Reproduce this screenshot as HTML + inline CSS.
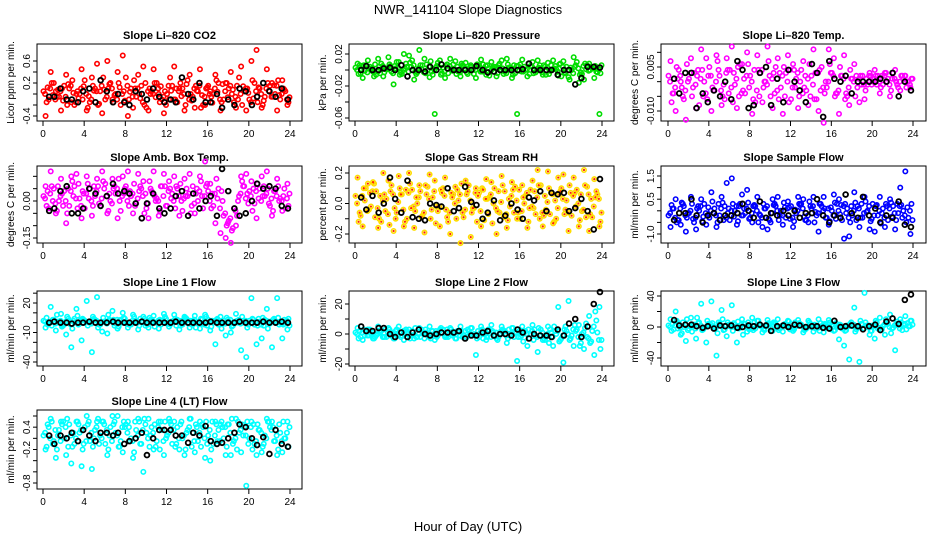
<!DOCTYPE html>
<html><head><meta charset="utf-8"><title>NWR_141104 Slope Diagnostics</title>
<style>
html,body{margin:0;padding:0;background:#fff;}
svg{display:block;font-family:"Liberation Sans",sans-serif;}
</style></head>
<body>
<svg id="chart" xmlns="http://www.w3.org/2000/svg" width="936" height="540" viewBox="0 0 936 540">
<text x="468" y="14" text-anchor="middle" font-size="13">NWR_141104  Slope Diagnostics</text>
<text x="468" y="531" text-anchor="middle" font-size="13">Hour of Day (UTC)</text>
</svg>
<script>
// shared time grids (hours)
const hoursGrid = [0.25,0.75,1.25,1.75,2.25,2.75,3.25,3.75,4.25,4.75,5.25,5.75,6.25,6.75,7.25,7.75,8.25,8.75,9.25,9.75,10.25,10.75,11.25,11.75,12.25,12.75,13.25,13.75,14.25,14.75,15.25,15.75,16.25,16.75,17.25,17.75,18.25,18.75,19.25,19.75,20.25,20.75,21.25,21.75,22.25,22.75,23.25,23.75];
const hoursBlack = [0.6,1.1,1.7,2.3,2.8,3.4,3.9,4.5,5.1,5.6,6.2,6.8,7.3,7.9,8.4,9.0,9.6,10.1,10.7,11.3,11.8,12.4,12.9,13.5,14.1,14.6,15.2,15.8,16.3,16.9,17.4,18.0,18.6,19.1,19.7,20.3,20.8,21.4,22.0,22.6,23.2,23.8];
const xTicks = [0,4,8,12,16,20,24];

// Panel 1: CO2
const co2A = [0.05,-0.1,0.2,-0.05,0.15,0.1,-0.2,0.0,0.25,-0.15,0.1,0.05,-0.1,0.2,0.0,-0.2,0.3,0.1,-0.05,0.15,-0.25,0.05,0.2,-0.1,0.0,0.15,-0.15,0.1,0.25,-0.05,0.05,-0.2,0.15,0.0,0.2,-0.1,0.1,-0.15,0.3,0.05,-0.1,0.2,0.1,-0.05,0.15,0.0,-0.1,0.05];
const co2B = [-0.15,0.2,-0.05,0.1,-0.2,0.25,0.05,-0.1,-0.25,0.15,-0.2,0.3,0.1,-0.15,0.2,0.05,-0.1,0.25,0.0,-0.2,0.1,0.2,-0.15,0.05,0.3,-0.1,0.2,-0.2,0.0,0.15,-0.25,0.1,-0.05,0.25,-0.15,0.2,0.0,0.15,-0.2,0.1,0.25,-0.15,-0.2,0.2,-0.05,0.25,0.1,-0.15];
const co2C = [-0.4,0.4,0.05,-0.3,0.35,-0.15,0.0,0.45,-0.3,0.3,0.55,-0.35,0.6,-0.1,0.4,0.7,-0.4,-0.25,0.35,0.5,-0.3,0.45,0.0,-0.35,-0.1,0.5,0.1,-0.3,0.35,-0.25,0.45,-0.2,0.05,0.35,-0.3,0.2,0.4,-0.25,0.5,-0.3,0.6,0.8,-0.25,0.45,0.2,-0.3,0.25,-0.2];
const co2D = [0.0,0.1,-0.1,0.05,-0.05,0.15,-0.15,0.1,0.0,-0.1,0.05,0.15,-0.05,0.1,-0.1,0.0,0.15,-0.05,0.1,-0.15,0.05,0.0,0.1,-0.05,0.15,-0.1,0.05,0.0,-0.1,0.1,0.15,-0.05,0.0,0.1,-0.1,0.05,0.15,-0.05,0.0,0.1,-0.15,0.05,0.0,0.1,-0.05,0.15,0.0,-0.1];
const co2E = [0.12,-0.02,0.08,-0.12,0.18,0.02,-0.08,0.14,-0.04,0.06,-0.18,0.08,0.18,-0.02,0.12,-0.12,0.04,0.1,-0.08,0.2,0.0,-0.06,0.14,-0.2,0.06,0.1,-0.04,0.18,-0.12,0.06,-0.02,0.12,-0.16,0.04,0.18,-0.06,0.08,-0.1,0.14,0.02,-0.08,0.12,-0.12,0.06,0.16,-0.02,0.08,-0.06];
const co2K = [-0.05,-0.05,0.1,-0.1,-0.1,-0.15,0.05,0.1,-0.15,0.25,0.05,-0.15,0.0,-0.15,-0.2,0.05,0.0,-0.1,0.1,-0.05,-0.15,-0.1,-0.15,0.3,0.0,-0.1,0.2,-0.15,-0.15,0.0,-0.25,-0.1,-0.2,0.1,0.05,-0.2,-0.05,0.2,0.05,-0.05,0.1,-0.1];
// Panel 2: pressure
const presA = [0.003,-0.004,0.006,0.0,-0.006,0.008,0.002,-0.002,0.01,-0.005,0.004,0.012,-0.003,0.006,0.0,-0.006,0.009,0.003,-0.004,0.007,-0.002,0.005,0.0,-0.005,0.006,0.002,-0.007,0.004,0.008,-0.002,0.003,-0.004,0.007,0.0,0.005,-0.003,0.002,-0.006,0.006,0.001,-0.008,0.004,0.0,0.01,-0.005,0.006,0.002,-0.003];
const presB = [-0.005,0.006,0.002,-0.008,0.004,-0.003,0.007,0.005,-0.006,0.002,0.009,-0.002,0.006,-0.004,0.011,0.003,-0.006,0.005,0.001,-0.005,0.008,-0.003,0.004,0.007,-0.002,0.006,0.003,-0.004,0.002,0.007,-0.006,0.005,-0.002,0.008,-0.004,0.003,0.006,-0.005,0.002,0.007,-0.003,-0.012,0.004,-0.006,0.008,0.0,0.005,-0.004];
const presC = [0.008,-0.01,0.012,-0.002,0.014,-0.008,0.016,-0.018,0.01,0.02,0.018,-0.012,0.025,0.014,-0.009,-0.055,0.012,-0.01,0.014,0.011,-0.008,0.009,0.006,-0.01,0.013,-0.006,0.01,-0.008,0.012,0.014,-0.01,-0.055,0.013,-0.008,0.01,0.012,-0.006,0.009,0.012,-0.007,0.011,-0.009,0.016,-0.016,-0.012,0.008,-0.01,-0.055];
const presD = [0.0,0.004,-0.003,0.002,-0.002,0.005,0.001,-0.004,0.003,0.0,-0.002,0.006,0.002,-0.003,0.004,0.0,0.003,-0.002,0.005,0.001,-0.003,0.002,0.004,0.0,-0.002,0.005,-0.001,0.003,0.0,-0.004,0.002,0.005,-0.002,0.001,0.004,0.0,-0.003,0.003,0.001,-0.002,0.004,0.0,-0.004,0.002,0.005,-0.001,0.003,0.0];
const presE = [0.006,-0.001,0.004,0.007,-0.004,0.001,0.005,0.002,-0.003,0.008,0.004,-0.005,0.001,0.007,-0.002,0.005,-0.004,0.007,-0.001,0.004,0.006,-0.005,0.001,0.005,0.007,-0.003,0.002,0.006,-0.005,0.003,0.006,-0.001,0.004,-0.005,0.001,0.006,0.004,-0.001,0.005,0.008,-0.004,0.003,0.006,-0.003,0.001,0.004,-0.002,0.006];
const presK = [0.0,0.005,0.0,0.0,0.002,0.003,0.0,0.006,-0.008,0.0,0.0,-0.002,0.004,0.0,0.007,0.002,0.0,0.0,0.0,0.0,0.005,0.0,-0.003,-0.002,0.0,0.0,0.0,0.0,0.001,0.008,0.0,0.0,0.0,0.0,-0.006,0.0,0.0,-0.018,-0.01,0.004,0.004,0.003];
// Panel 3: Li-820 temp
const tempA = [0.002,-0.004,0.004,-0.006,0.001,0.003,-0.008,0.0,0.005,-0.003,0.002,-0.006,0.004,-0.001,0.006,-0.004,0.002,-0.007,0.003,0.0,-0.005,0.005,-0.002,0.003,-0.006,0.001,0.004,-0.003,0.002,-0.006,0.005,-0.002,0.003,-0.004,0.002,-0.005,0.001,-0.002,0.002,-0.001,0.0,0.002,-0.001,0.001,0.003,-0.002,0.001,0.0];
const tempB = [-0.007,0.005,-0.002,0.006,-0.005,0.002,0.004,-0.006,-0.002,0.007,-0.005,0.004,-0.007,0.005,-0.003,0.006,-0.006,0.004,-0.002,0.007,0.003,-0.006,0.005,-0.007,0.004,-0.005,-0.002,0.006,-0.006,0.004,-0.004,0.006,-0.005,0.005,-0.006,0.004,-0.005,0.002,-0.003,0.002,0.002,-0.002,0.003,-0.003,0.0,0.002,-0.002,0.001];
const tempC = [0.007,-0.01,0.0,-0.013,0.008,-0.009,0.011,0.008,-0.01,0.009,-0.008,0.008,0.012,-0.009,0.006,0.01,-0.011,0.009,-0.007,0.012,-0.009,0.008,-0.011,0.009,0.006,-0.009,0.007,-0.008,0.011,-0.01,-0.014,0.011,0.008,-0.011,0.009,-0.008,0.006,-0.007,-0.006,0.003,0.004,-0.004,0.003,-0.005,0.004,-0.003,0.002,-0.002];
const tempD = [0.0,-0.002,0.002,-0.003,0.003,-0.001,0.001,-0.004,0.002,0.0,-0.003,0.003,-0.002,0.001,-0.004,0.002,0.0,-0.003,0.004,-0.001,0.001,-0.003,0.002,0.0,-0.002,0.003,-0.004,0.001,-0.001,0.003,-0.002,0.0,0.002,-0.003,0.001,-0.002,0.0,0.001,-0.001,0.002,0.001,0.0,0.002,-0.001,0.001,0.0,0.002,-0.001];
const tempE = [-0.004,0.001,-0.005,0.0,-0.002,0.004,-0.005,0.002,-0.003,0.004,-0.001,-0.004,0.003,-0.005,0.001,-0.002,0.004,-0.005,0.0,0.002,-0.004,0.003,-0.005,0.004,-0.002,0.0,0.002,-0.005,0.003,-0.003,0.0,0.003,-0.004,0.002,-0.004,0.001,0.002,-0.001,0.001,-0.001,-0.001,0.002,0.0,0.001,-0.001,0.002,0.0,0.001];
const tempK = [0.001,-0.004,0.003,0.003,-0.009,-0.004,-0.007,-0.003,-0.005,0.0,-0.006,0.007,0.004,-0.009,-0.008,0.003,0.005,-0.008,0.001,-0.007,0.004,0.0,-0.003,-0.007,0.006,0.003,-0.012,0.007,0.001,0.0,0.002,-0.004,0.0,0.0,0.0,0.0,0.001,0.0,0.003,-0.005,0.0,-0.003];
// Panel 4: amb box temp
const ambA = [0.02,-0.03,0.05,0.0,0.04,-0.02,0.06,0.01,-0.03,0.05,0.02,-0.02,0.07,0.0,0.03,-0.04,0.06,0.02,-0.01,0.05,-0.03,0.04,0.01,0.06,-0.02,0.03,0.05,-0.04,0.02,0.06,0.0,-0.03,0.04,-0.02,0.05,-0.06,-0.08,-0.03,0.02,0.06,0.04,-0.01,0.05,0.02,-0.02,0.04,0.01,-0.03];
const ambB = [-0.02,0.06,-0.04,0.03,-0.05,0.08,-0.03,0.04,0.07,-0.02,0.06,0.08,-0.04,0.05,0.09,0.03,-0.02,0.07,0.04,-0.05,0.08,0.02,-0.04,0.06,0.05,-0.03,0.07,0.02,-0.05,0.03,0.08,0.06,-0.03,0.09,0.04,-0.1,-0.12,-0.06,0.08,0.03,-0.04,0.07,0.02,0.05,-0.04,0.06,0.02,-0.02];
const ambC = [0.06,0.12,-0.05,0.09,-0.09,0.1,0.11,-0.07,0.1,-0.06,0.09,0.12,-0.05,0.09,-0.07,0.1,0.12,-0.05,0.11,0.08,-0.07,0.12,-0.06,0.11,0.08,0.1,-0.06,0.09,0.11,-0.05,0.1,0.16,0.07,-0.09,-0.13,-0.15,-0.17,-0.1,0.1,0.11,0.08,-0.07,0.1,0.12,-0.06,0.09,-0.04,0.07];
const ambD = [0.01,0.03,-0.01,0.02,0.0,0.04,0.01,-0.02,0.03,0.0,0.04,0.01,0.02,-0.01,0.05,0.02,0.0,0.03,0.01,0.02,-0.01,0.03,0.0,0.02,0.04,0.0,0.02,0.01,0.03,-0.01,0.04,0.02,0.0,0.03,-0.03,-0.05,-0.07,-0.04,0.03,0.01,0.02,0.04,0.0,0.03,0.01,0.02,0.0,0.01];
const ambE = [0.04,0.0,0.06,-0.02,0.05,0.02,0.07,0.03,0.01,0.06,-0.01,0.05,0.03,0.06,0.0,0.05,0.04,-0.02,0.06,0.03,0.05,0.0,0.06,-0.02,0.01,0.06,0.0,0.05,-0.02,0.05,0.02,0.07,0.03,0.01,0.0,-0.09,-0.11,0.0,0.06,-0.01,0.05,0.01,0.06,-0.01,0.04,0.0,0.05,0.03];
const ambK = [-0.04,-0.03,0.04,0.06,-0.05,-0.05,-0.03,0.05,0.03,-0.02,0.02,0.07,0.03,0.04,0.03,-0.01,-0.07,-0.01,0.03,-0.03,-0.05,-0.03,0.02,0.04,-0.06,0.03,-0.03,0.0,0.02,-0.06,0.13,0.04,-0.03,-0.06,-0.05,0.0,0.07,0.05,0.06,0.05,-0.02,-0.03];
// Panel 5: gas stream RH
const rhA = [0.05,-0.08,0.1,-0.02,0.08,-0.12,0.03,0.12,-0.06,0.06,-0.1,0.09,0.0,-0.08,0.11,0.04,-0.05,0.1,-0.12,0.06,0.02,-0.09,0.12,-0.03,0.07,-0.11,0.04,0.1,-0.06,0.08,-0.02,0.11,-0.1,0.05,0.09,-0.07,0.12,-0.04,0.07,-0.1,0.1,0.02,-0.08,0.09,-0.05,0.11,-0.09,0.06];
const rhB = [-0.12,0.1,-0.04,0.13,-0.1,0.06,-0.14,-0.03,0.1,-0.12,0.13,-0.05,0.08,0.12,-0.1,-0.13,0.09,-0.04,0.07,-0.1,0.13,0.06,-0.06,-0.12,0.1,0.03,-0.13,-0.05,0.12,-0.11,0.09,-0.06,0.04,-0.12,-0.03,0.12,-0.08,0.1,-0.12,0.06,-0.07,0.12,0.07,-0.11,0.12,-0.07,0.04,-0.12];
const rhC = [0.17,-0.15,0.13,0.14,-0.16,0.2,0.15,-0.18,0.18,-0.15,0.2,-0.16,0.12,-0.19,0.19,0.15,-0.15,0.17,-0.2,0.11,-0.26,0.15,-0.22,0.1,-0.15,0.16,0.14,-0.2,0.18,-0.16,0.14,-0.1,0.12,-0.16,0.15,0.22,-0.15,0.21,-0.13,0.17,0.19,-0.18,0.17,-0.15,0.22,-0.18,0.16,-0.15];
const rhD = [0.0,0.05,-0.05,0.08,-0.03,0.02,-0.07,0.06,0.01,-0.04,0.07,-0.02,0.04,-0.06,0.03,0.08,-0.02,0.05,-0.06,0.0,0.06,-0.04,0.02,0.07,-0.05,0.03,0.06,-0.03,0.01,-0.07,0.05,0.02,-0.05,0.07,-0.02,0.04,-0.06,0.01,0.06,-0.03,0.03,-0.06,0.05,0.0,-0.04,0.06,-0.02,0.03];
const rhE = [-0.06,0.02,0.07,-0.09,0.05,-0.05,0.08,-0.1,0.06,0.09,-0.03,0.04,-0.09,0.06,-0.04,-0.02,0.07,-0.09,0.04,0.09,-0.06,0.08,-0.03,0.05,0.09,-0.07,0.0,0.08,-0.09,0.03,-0.06,0.09,0.0,-0.03,0.08,-0.1,0.05,-0.07,0.02,0.08,-0.04,0.07,-0.02,0.06,-0.09,0.03,0.08,-0.06];
const rhK = [0.04,-0.04,0.05,-0.06,0.0,0.17,0.03,-0.06,0.15,-0.09,-0.1,-0.11,0.0,-0.01,-0.02,0.1,-0.05,-0.03,0.11,0.01,-0.01,-0.1,-0.06,0.02,-0.11,-0.08,0.0,-0.04,-0.1,0.04,0.02,0.08,-0.05,0.07,0.06,0.07,-0.05,-0.03,0.03,-0.05,-0.17,0.16];
// Panel 6: sample flow
const sfA = [-0.2,0.1,-0.4,0.2,-0.1,-0.5,0.0,0.3,-0.3,0.1,-0.2,0.2,-0.4,0.0,0.3,-0.1,-0.3,0.2,-0.2,0.1,-0.5,0.2,0.0,-0.3,0.2,-0.1,0.3,-0.4,0.1,-0.2,0.2,-0.3,0.0,0.3,-0.4,0.1,-0.2,0.2,-0.3,0.0,0.3,-0.2,0.1,-0.4,0.2,-0.1,0.0,-0.3];
const sfB = [0.25,-0.5,0.35,-0.3,0.3,0.1,-0.45,-0.2,0.4,-0.5,0.35,-0.1,0.3,-0.45,-0.2,0.35,0.2,-0.5,0.3,-0.35,0.25,-0.4,0.35,0.15,-0.45,0.3,-0.25,0.4,-0.5,0.3,0.1,-0.45,0.35,-0.15,0.3,-0.5,0.35,-0.3,0.4,-0.45,0.2,-0.55,0.3,0.35,-0.4,0.25,-0.5,0.3];
const sfC = [-0.7,0.5,-0.6,-0.9,0.6,-0.8,0.5,-0.6,0.8,-0.7,0.6,1.2,1.4,-0.6,0.7,0.9,-0.5,0.6,-0.7,-0.8,0.5,0.6,-0.6,0.4,-0.7,0.6,0.5,-0.5,0.6,-0.9,0.6,-0.6,0.7,0.5,-1.2,-1.1,0.8,-0.7,0.6,-0.8,-0.9,0.6,-0.7,0.5,-0.8,1.0,1.7,-1.0];
const sfD = [-0.1,-0.3,0.1,-0.2,0.0,-0.3,0.2,-0.1,0.0,-0.2,0.1,-0.3,0.0,0.2,-0.2,0.1,-0.1,0.0,-0.3,0.2,-0.1,0.0,-0.2,0.1,-0.3,0.0,0.1,-0.2,0.2,-0.1,0.0,0.1,-0.2,0.0,0.2,-0.3,0.0,0.1,-0.1,0.2,-0.2,0.0,-0.3,0.1,-0.1,0.2,-0.2,0.0];
const sfE = [0.1,-0.4,0.3,-0.1,-0.35,0.2,-0.25,0.15,-0.1,0.3,-0.4,0.1,-0.25,0.2,0.1,-0.35,0.25,-0.15,0.1,-0.4,0.3,-0.2,0.15,-0.35,0.05,0.25,-0.4,0.2,-0.05,0.3,-0.3,0.15,-0.35,0.25,-0.1,0.2,-0.4,0.3,-0.05,-0.35,0.25,-0.1,0.2,-0.25,0.3,-0.3,0.15,-0.4];
const sfK = [-0.4,-0.1,-0.1,0.5,-0.2,-0.5,-0.2,-0.1,-0.4,-0.2,-0.2,-0.1,0.3,0.0,-0.3,0.4,-0.3,-0.1,-0.2,0.0,-0.2,0.0,-0.3,-0.1,-0.1,0.5,-0.2,-0.5,-0.2,-0.3,0.7,-0.1,-0.3,0.6,-0.2,0.1,-0.5,-0.2,-0.3,0.4,-0.6,-0.7];
// Panel 7: line 1 flow
const l1A = [2,-1,3,0,-2,1,4,-1,2,0,3,-2,1,2,-1,3,0,-2,2,1,-1,3,0,2,-1,1,3,-2,0,2,1,-1,3,0,-2,2,1,-1,3,0,2,-2,1,3,-1,2,0,1];
const l1B = [5,-3,8,-4,6,-6,7,4,-3,6,-5,5,8,3,-4,5,-2,6,-3,4,5,-4,3,6,-2,4,-3,5,2,-5,4,6,-4,3,-6,5,-4,2,6,-5,4,-3,5,-6,3,5,-2,4];
const l1C = [-5,16,-8,9,-12,-25,14,-18,22,-30,26,-9,-11,12,-6,10,-5,8,-7,6,-5,7,-6,9,-4,8,-7,6,-5,7,-6,8,-8,-22,6,-13,-10,9,-28,-35,25,-22,-16,14,-25,25,-16,-7];
const l1D = [1,0,-1,2,1,-2,0,3,1,-1,2,0,-1,1,3,0,-1,2,0,1,-2,1,2,0,-1,2,0,1,-1,3,0,-2,1,2,0,-1,3,1,-1,2,0,1,-2,2,1,0,-1,2];
const l1E = [-2,3,1,-3,4,2,-2,3,0,4,-2,1,3,-3,2,4,-1,2,4,-3,3,0,-2,4,1,-3,2,4,-2,0,3,-3,2,4,-1,3,-3,0,2,-2,3,4,-3,1,4,-2,3,-3];
const l1K = [0,1,0,0,-1,0,0,1,0,0,0,1,0,0,0,0,1,0,0,0,0,0,1,0,0,0,0,0,1,0,0,0,0,1,0,0,0,1,0,0,1,0];
// Panel 8: line 2 flow
const l2A = [1,-2,2,0,-1,2,-2,1,3,-1,0,2,-2,1,0,2,-1,3,-2,0,1,-1,2,0,-2,1,2,-1,0,2,-1,1,-2,2,0,-1,3,-2,1,0,-3,2,-1,3,0,-2,2,1];
const l2B = [-3,3,-1,-3,2,-2,3,-3,1,2,-3,4,-2,3,-3,2,4,-2,3,-3,2,-2,4,-3,3,-2,2,-4,3,-3,4,-2,-5,3,-4,4,-3,-6,5,-5,3,-4,6,-8,4,-6,15,-10];
const l2C = [4,-4,3,-3,5,-2,4,-3,5,-4,3,-3,4,-3,5,-4,3,-2,4,-3,5,-3,4,-14,5,-4,6,-3,5,-6,4,-18,5,-8,6,-12,-4,5,-8,18,-19,22,-8,6,-10,12,-14,18];
const l2D = [0,1,-1,1,0,-2,1,0,-1,2,1,-1,0,1,-2,0,2,-1,0,1,-1,2,0,-1,1,0,-2,1,2,-1,0,1,-1,0,2,-2,1,0,-2,2,-1,0,3,-2,1,-3,5,-4];
const l2E = [2,-1,3,-2,1,3,-1,2,-2,3,-1,-2,3,1,2,-2,1,3,-1,2,-2,3,-1,2,-3,3,1,-2,2,3,-2,2,1,-3,3,-1,-4,3,2,-4,5,-3,2,-6,7,-5,9,-4];
const l2K = [5,2,2,4,4,0,-2,1,-2,1,3,0,-1,0,1,1,1,2,-3,-1,-1,1,2,-1,0,0,-1,3,1,-3,0,-1,-1,-2,3,-1,7,10,-2,5,20,28];
// Panel 9: line 3 flow
const l3A = [2,-3,5,0,-2,3,6,-1,2,0,4,-3,1,3,-1,4,0,-2,3,1,-1,4,0,2,-1,1,3,-2,0,2,1,-1,3,0,-2,2,1,-1,3,0,2,-2,1,4,-1,2,3,1];
const l3B = [-5,8,-8,10,-6,12,-4,8,5,-8,10,6,-5,7,-10,6,-4,8,-3,5,6,-4,3,7,-3,5,-4,6,3,-5,4,6,-4,3,-5,4,-6,8,6,-5,8,-4,10,-8,4,6,-3,8];
const l3C = [10,20,-10,-18,12,-15,30,-20,33,-37,22,-12,28,-20,10,-6,12,8,-7,9,-5,10,-6,8,-5,9,-7,8,-6,10,-7,9,-5,-16,-24,-42,25,-45,44,-10,-15,12,-10,16,-30,10,14,8];
const l3D = [0,2,-1,3,1,-2,2,0,3,-1,1,2,0,-1,3,1,-2,2,0,3,1,-1,2,0,-2,3,1,0,2,-1,3,0,1,2,-2,1,3,0,-2,2,1,-1,3,0,2,-2,4,1];
const l3E = [4,-2,6,-4,3,5,-3,4,-2,6,-4,3,5,-2,4,-3,6,2,-4,3,5,-2,4,-3,6,2,-3,4,-2,5,3,-3,5,2,-4,6,-3,4,2,-5,6,-3,5,-2,7,-4,5,3];
const l3K = [9,2,3,3,1,-1,1,-2,2,1,2,-1,0,2,1,3,2,-5,1,2,0,3,2,0,1,1,-1,-2,8,0,1,2,1,-3,1,3,-4,7,11,4,35,42];
// Panel 10: line 4 (LT) flow
const l4A = [0.05,0.2,-0.05,0.15,0.0,0.25,-0.1,0.1,0.2,-0.05,0.15,0.05,-0.1,0.2,0.1,-0.05,0.25,0.0,0.15,-0.1,0.1,0.2,-0.05,0.15,0.05,-0.1,0.2,0.0,0.15,0.1,-0.05,0.2,0.05,-0.1,0.15,0.0,0.25,-0.05,0.1,0.2,0.0,-0.1,0.15,0.05,0.2,-0.05,0.1,0.0];
const l4B = [-0.15,0.3,-0.2,0.25,0.35,-0.15,0.3,-0.2,0.25,-0.15,0.35,0.3,-0.2,0.25,-0.15,0.3,0.2,-0.25,0.3,0.35,-0.15,0.25,-0.2,0.3,0.3,-0.15,0.25,-0.2,0.35,0.25,-0.15,0.3,-0.2,0.25,0.3,-0.15,0.35,-0.2,0.25,0.3,-0.2,0.25,-0.15,0.3,0.2,-0.2,0.3,-0.15];
const l4C = [-0.2,0.35,-0.35,0.3,-0.3,-0.45,0.3,-0.5,0.4,-0.55,0.3,0.3,-0.3,0.4,0.4,-0.25,0.3,-0.35,0.35,-0.6,0.35,-0.2,0.3,-0.3,0.35,0.3,-0.2,-0.3,0.35,-0.25,0.3,-0.35,-0.4,0.3,0.25,-0.3,-0.3,0.35,-0.25,-0.85,0.3,-0.3,-0.25,0.35,0.3,-0.3,-0.25,0.3];
const l4D = [0.1,0.0,0.15,-0.05,0.2,0.05,0.0,0.15,-0.05,0.1,0.2,0.0,0.15,-0.05,0.05,0.2,0.1,-0.05,0.05,0.15,0.0,0.1,0.2,-0.05,0.1,0.15,0.0,0.05,0.2,-0.05,0.1,0.0,0.15,0.05,-0.05,0.2,0.1,0.0,0.15,0.05,0.2,-0.05,0.1,0.0,0.15,0.05,-0.05,0.1];
const l4E = [0.25,-0.1,0.05,0.3,-0.15,0.1,0.25,-0.1,0.3,0.0,-0.1,0.25,0.05,0.3,-0.15,0.2,-0.05,0.3,-0.1,0.25,0.05,-0.15,0.3,0.0,0.25,-0.1,0.3,0.1,-0.15,0.2,0.25,-0.1,0.3,-0.05,0.2,0.25,-0.1,0.3,0.05,-0.1,0.25,0.15,-0.1,0.3,-0.05,0.25,0.0,0.2];
const l4K = [0.05,-0.1,0.05,0.0,0.1,-0.05,0.15,0.05,-0.05,0.1,0.1,0.05,0.1,-0.1,-0.05,0.0,0.1,-0.3,0.0,0.15,0.15,0.15,0.05,0.05,-0.08,0.1,0.05,0.22,-0.05,-0.1,-0.08,0.0,0.1,0.25,0.2,0.0,-0.12,0.02,-0.28,0.15,-0.1,-0.15];

const yTicks = {
  co2:[-0.4,-0.2,0,0.2,0.4,0.6], pres:[-0.06,-0.04,-0.02,0,0.02], temp:[-0.01,-0.005,0,0.005,0.01],
  amb:[-0.15,-0.1,-0.05,0,0.05,0.1], rh:[-0.2,-0.1,0,0.1,0.2], sf:[-1.0,-0.5,0,0.5,1.0,1.5],
  l1:[-40,-30,-20,-10,0,10,20,30], l2:[-20,-10,0,10,20], l3:[-40,-20,0,20,40], l4:[-0.8,-0.6,-0.4,-0.2,0,0.2,0.4]
};
const yTickLabels = {
  co2:["-0.4","","","0.2","","0.6"], pres:["-0.06","","-0.02","","0.02"], temp:["-0.010","","","0.005",""],
  amb:["-0.15","","","0.00","",""], rh:["-0.2","","0.0","","0.2"], sf:["-1.0","","","0.5","","1.5"],
  l1:["-40","","","-10","","","20",""], l2:["-20","","0","","20"], l3:["-40","","0","","40"], l4:["-0.8","","","-0.2","","0.4"]
};

const cols = [{x0:37,x1:302,h0:43,h24:290},{x0:349,x1:614,h0:355,h24:602},{x0:661,x1:926,h0:668,h24:913}];
const rows = [{y0:44,y1:121},{y0:166,y1:243},{y0:291,y1:366},{y0:410,y1:489}];
const panels = [
 {key:'co2',name:'co2',title:'Slope Li\u2013820 CO2',ylab:'Licor ppm per min.',c:0,r:0,v1:0.6,p1:61,v2:-0.4,p2:116,color:'#ff0000',ser:[co2A,co2B,co2C,co2D,co2E],blk:co2K},
 {key:'pres',name:'pressure',title:'Slope Li\u2013820 Pressure',ylab:'kPa per min.',c:1,r:0,v1:0.02,p1:54,v2:-0.06,p2:118,color:'#00dd00',ser:[presA,presB,presC,presD,presE],blk:presK},
 {key:'temp',name:'li820-temp',title:'Slope Li\u2013820 Temp.',ylab:'degrees C per min.',c:2,r:0,v1:0.005,p1:67,v2:-0.01,p2:111,color:'#ff00ff',ser:[tempA,tempB,tempC,tempD,tempE],blk:tempK},
 {key:'amb',name:'amb-box-temp',title:'Slope Amb. Box Temp.',ylab:'degrees C per min.',c:0,r:1,v1:0,p1:201,v2:-0.15,p2:238,color:'#ff00ff',ser:[ambA,ambB,ambC,ambD,ambE],blk:ambK},
 {key:'rh',name:'gas-stream-rh',title:'Slope Gas Stream RH',ylab:'percent per min.',c:1,r:1,v1:0.2,p1:173,v2:-0.2,p2:234,color:'#ffdd00',dot:'#ff2200',ser:[rhA,rhB,rhC,rhD,rhE],blk:rhK},
 {key:'sf',name:'sample-flow',title:'Slope Sample Flow',ylab:'ml/min per min.',c:2,r:1,v1:1.5,p1:176,v2:-1.0,p2:234,color:'#0000ff',ser:[sfA,sfB,sfC,sfD,sfE],blk:sfK},
 {key:'l1',name:'line1-flow',title:'Slope Line 1 Flow',ylab:'ml/min per min.',c:0,r:2,v1:20,p1:303,v2:-40,p2:362,color:'#00ffff',ser:[l1A,l1B,l1C,l1D,l1E],blk:l1K},
 {key:'l2',name:'line2-flow',title:'Slope Line 2 Flow',ylab:'ml/min per min.',c:1,r:2,v1:20,p1:304,v2:-20,p2:364,color:'#00ffff',ser:[l2A,l2B,l2C,l2D,l2E],blk:l2K},
 {key:'l3',name:'line3-flow',title:'Slope Line 3 Flow',ylab:'ml/min per min.',c:2,r:2,v1:40,p1:296,v2:-40,p2:358,color:'#00ffff',ser:[l3A,l3B,l3C,l3D,l3E],blk:l3K},
 {key:'l4',name:'line4-lt-flow',title:'Slope Line 4 (LT) Flow',ylab:'ml/min per min.',c:0,r:3,v1:0.4,p1:416,v2:-0.8,p2:483,color:'#00ffff',ser:[l4A,l4B,l4C,l4D,l4E],blk:l4K}
];
const seriesShift = [-0.2,0.1,0.0,-0.05,0.2];

const NS='http://www.w3.org/2000/svg';
const svg=document.getElementById('chart');
function mk(tag,attrs,parent){const e=document.createElementNS(NS,tag);for(const k in attrs)e.setAttribute(k,attrs[k]);(parent||svg).appendChild(e);return e;}

panels.forEach(p=>{
  const col=cols[p.c], row=rows[p.r];
  const xs=h=>col.h0+(h/24)*(col.h24-col.h0);
  const ys=v=>p.p1+(v-p.v1)*(p.p2-p.p1)/(p.v2-p.v1);
  const g=mk('g',{});
  
  
  const t=mk('text',{x:(col.x0+col.x1)/2,y:row.y0-5,'text-anchor':'middle','font-size':'11','font-weight':'bold'},g);
  t.textContent=p.title;
  
  
  const yl=mk('text',{x:0,y:0,'text-anchor':'middle','font-size':'10',transform:`translate(${col.x0-23},${(row.y0+row.y1)/2}) rotate(-90)`},g);
  yl.textContent=p.ylab;
  
  
  yTicks[p.key].forEach((v,i)=>{
    const y=ys(v);
    const tk=mk('line',{x1:col.x0-4,x2:col.x0,y1:y,y2:y,stroke:'#000','stroke-width':1},g);
    
    
    const lab=yTickLabels[p.key][i];
    if(lab){
      const tl=mk('text',{x:0,y:0,'text-anchor':'middle','font-size':'10',transform:`translate(${col.x0-7},${y}) rotate(-90)`},g);
      tl.textContent=lab;
      
      
    }
  });
  xTicks.forEach(h=>{
    const x=xs(h);
    const tk=mk('line',{x1:x,x2:x,y1:row.y1,y2:row.y1+5,stroke:'#000','stroke-width':1},g);
    
    
    const tl=mk('text',{x:x,y:row.y1+16,'text-anchor':'middle','font-size':'10'},g);
    tl.textContent=String(h);
    
    
  });
  const box=mk('rect',{x:col.x0,y:row.y0,width:col.x1-col.x0,height:row.y1-row.y0,fill:'none',stroke:'#000','stroke-width':1},g);
  
  
  p.ser.forEach((vals,si)=>{
    const n=Math.min(vals.length,hoursGrid.length);
    for(let i=0;i<n;i++){
      const cx=xs(hoursGrid[i]+seriesShift[si]), cy=ys(vals[i]);
      const c=mk('circle',{cx:cx,cy:cy,r:2.2,fill:'none',stroke:p.color,'stroke-width':1.6},g);
      
      
      if(p.dot){
        const d=mk('circle',{cx:cx,cy:cy,r:1.1,fill:p.dot},g);
        
        
      }
    }
  });
  const n=Math.min(p.blk.length,hoursBlack.length);
  for(let i=0;i<n;i++){
    const c=mk('circle',{cx:xs(hoursBlack[i]),cy:ys(p.blk[i]),r:2.4,fill:'none',stroke:'#000','stroke-width':1.8},g);
    
    
  }
});
</script>
</body></html>
